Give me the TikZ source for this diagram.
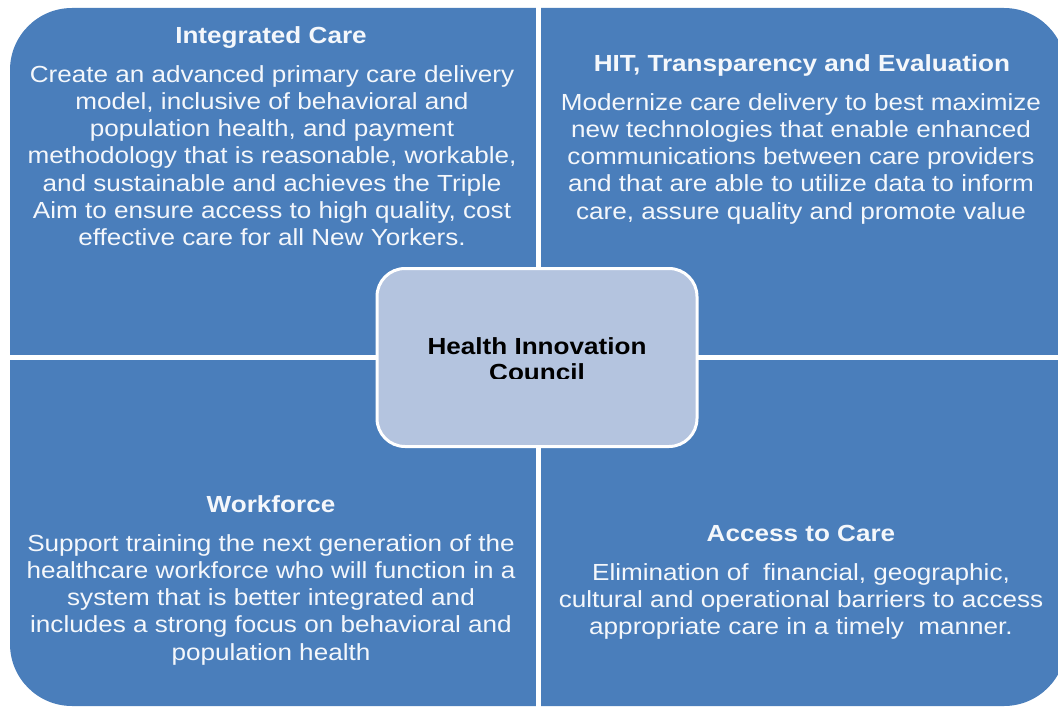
\documentclass[tikz,border=0pt]{standalone}
\usepackage{fontspec}
\setmainfont{Liberation Sans}[FakeStretch=1.12]
\definecolor{quadblue}{HTML}{4A7EBB}
\definecolor{hubfill}{HTML}{B4C4DF}
\definecolor{txtwhite}{HTML}{F4F7FB}
\begin{document}
\begin{tikzpicture}[x=1pt,y=-1pt,
  title/.style={font=\bfseries\fontsize{23.3}{27.3}\selectfont, text=txtwhite, anchor=base, inner sep=0pt},
  body/.style={font=\fontsize{23.3}{27.3}\selectfont, text=txtwhite, align=center, anchor=north, inner sep=0pt},
  divider/.style={draw=white, line width=4.5pt},
  hub/.style={fill=hubfill, draw=white, line width=3pt, rounded corners=28pt, minimum width=320pt, minimum height=178pt},
  hubtxt/.style={font=\bfseries\fontsize{23.3}{26}\selectfont, text=black, anchor=base, inner sep=0pt}
]
\useasboundingbox (0,0) rectangle (1058,709);
% quadrant area
\fill[quadblue, rounded corners=62pt] (10,8) rectangle (1066,706);
\coordinate (vtop) at (538.5,0);
\coordinate (vbot) at (538.5,709);
\coordinate (hl) at (0,357.5);
\coordinate (hr) at (1058,357.5);
\draw[divider] (vtop) -- (vbot);
\draw[divider] (hl) -- (hr);

% top-left
\node[title] (t1) at (271,44) {Integrated Care};
\node[body] (b1) at (272,65) {Create an advanced primary care delivery\\model, inclusive of behavioral and\\population health, and payment\\methodology that is reasonable, workable,\\and sustainable and achieves the Triple\\Aim to ensure access to high quality, cost\\effective care for all New Yorkers.};

% top-right
\node[title] (t2) at (802,72) {HIT, Transparency and Evaluation};
\node[body] (b2) at (801,93) {Modernize care delivery to best maximize\\new technologies that enable enhanced\\communications between care providers\\and that are able to utilize data to inform\\care, assure quality and promote value};

% bottom-left
\node[title] (t3) at (271,512) {Workforce};
\node[body] (b3) at (271,534) {Support training the next generation of the\\healthcare workforce who will function in a\\system that is better integrated and\\includes a strong focus on behavioral and\\population health};

% bottom-right
\node[title] (t4) at (801,541) {Access to Care};
\node[body] (b4) at (801,563) {Elimination of\ \ financial, geographic,\\cultural and operational barriers to access\\appropriate care in a timely\ \ manner.};

% hub
\node[hub] (hubnode) at (537,357.5) {};
\node[hubtxt] (hubtext) at (537,354) {Health Innovation};
\begin{scope}
  \clip (hubnode.west |- 0,300) rectangle (hubnode.east |- 0,378);
  \node[hubtxt] (hubtext2) at (537,380) {Council};
\end{scope}
\end{tikzpicture}
\end{document}
